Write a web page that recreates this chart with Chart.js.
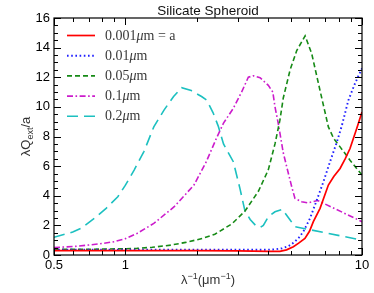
<!DOCTYPE html>
<html><head><meta charset="utf-8">
<script src="https://cdn.jsdelivr.net/npm/chart.js@4/dist/chart.umd.min.js"></script>
<style>html,body{margin:0;padding:0;background:#fff}#wrap{width:374px;height:293px;position:relative}</style>
</head><body><div id="wrap"><canvas id="c" width="374" height="293"></canvas></div>
<script>
const chartTitle = "Silicate Spheroid";
const seriesLabels = ["0.001μm = a", "0.01μm", "0.05μm", "0.1μm", "0.2μm"];

const x001 = [0.5, 0.7, 1, 1.5, 2, 3, 4, 4.5, 4.8, 5.13, 5.4, 5.74, 6.0, 6.23, 6.65, 7.21, 7.6, 8.08, 8.5, 8.9, 9.5, 10];
const y001 = [0.3, 0.3, 0.3, 0.3, 0.3, 0.28, 0.25, 0.25, 0.35, 0.56, 0.8, 1.12, 1.6, 2.25, 3.15, 4.72, 5.3, 5.84, 6.5, 7.19, 8.54, 9.65];

const x01 = [0.5, 1, 2, 3, 4, 4.3, 4.6, 4.9, 5.13, 5.4, 5.65, 6.03, 6.44, 6.87, 7.33, 7.82, 8.21, 8.76, 9.35, 10];
const y01 = [0.36, 0.36, 0.35, 0.35, 0.36, 0.38, 0.45, 0.6, 0.82, 1.15, 1.57, 2.47, 3.7, 4.94, 6.3, 7.6, 8.7, 10.45, 11.6, 12.6];

const x05 = [0.5, 0.7, 0.81, 1.0, 1.12, 1.3, 1.56, 1.8, 2.0, 2.12, 2.39, 2.82, 3.2, 3.65, 4.02, 4.29, 4.5, 4.65, 4.97, 5.3, 5.75, 6.13, 6.65, 7.21, 7.6, 8.08, 8.9, 10];
const y05 = [0.38, 0.38, 0.4, 0.42, 0.45, 0.52, 0.67, 0.85, 1.02, 1.12, 1.4, 2.1, 2.95, 4.3, 5.75, 7.5, 9.1, 10.6, 12.5, 13.8, 14.8, 13.6, 11.1, 8.65, 7.85, 7.3, 6.4, 5.4];

const x1 = [0.5, 0.6, 0.7, 0.8, 0.9, 1.0, 1.12, 1.32, 1.61, 1.95, 2.2, 2.43, 2.6, 2.86, 3.1, 3.31, 3.47, 3.71, 4.02, 4.2, 4.29, 4.43, 4.65, 4.87, 5.05, 5.21, 5.56, 5.9, 6.5, 10];
const y1 = [0.5, 0.57, 0.67, 0.78, 0.9, 1.1, 1.45, 2.13, 3.26, 4.72, 6.3, 7.9, 8.9, 9.9, 11.0, 12.0, 12.1, 11.97, 11.45, 11.0, 10.0, 8.87, 6.9, 5.6, 4.6, 3.82, 3.6, 3.52, 3.68, 2.25];

const x2 = [0.5, 0.6, 0.65, 0.74, 0.83, 0.93, 1.0, 1.09, 1.2, 1.32, 1.46, 1.6, 1.73, 1.9, 2.1, 2.21, 2.35, 2.47, 2.6, 2.86, 3.05, 3.2, 3.37, 3.55, 3.71, 3.83, 4.02, 4.29, 4.61, 4.97, 5.21, 5.84, 10];
const y2 = [1.2, 1.55, 1.8, 2.47, 3.15, 3.93, 4.7, 5.73, 7.0, 8.65, 9.8, 10.7, 11.3, 11.1, 10.7, 10.45, 9.6, 8.7, 7.5, 6.3, 4.5, 3.0, 2.4, 2.0, 1.86, 2.0, 2.58, 2.92, 3.08, 2.36, 1.91, 1.75, 1.0];

const xTickValues = [0.5, 1, 10];
const xMinorTicks = [0.6, 0.7, 0.8, 0.9, 2, 3, 4, 5, 6, 7, 8, 9];
const yTickValues = [0, 2, 4, 6, 8, 10, 12, 14, 16];
const yMinorStep = 0.5;

const seriesX = [x001, x01, x05, x1, x2];
const seriesY = [y001, y01, y05, y1, y2];
const seriesColors = ["#ff0000", "#1f1fff", "#168a16", "#cc1ccc", "#1cc0c0"];
const seriesDash = [[], [1.6, 2.6], [5, 3], [6, 2.5, 1.6, 2.5], [11, 6]];
const seriesWidth = [1.7, 1.9, 1.6, 1.6, 1.6];

const datasets = seriesX.map((xs, k) => ({
  label: seriesLabels[k],
  data: xs.map((x, i) => ({x: x, y: seriesY[k][i]})),
  borderColor: seriesColors[k],
  backgroundColor: seriesColors[k],
  borderDash: seriesDash[k],
  borderWidth: seriesWidth[k],
  pointRadius: 0,
  tension: 0,
  fill: false
}));

const SANS = "'Liberation Sans', Arial, sans-serif";
const SERIF = "'Liberation Serif', 'Times New Roman', serif";

function drawRich(ctx, parts, x, y, align) {
  // parts: [{t, font, dy}]
  let total = 0;
  parts.forEach(p => { ctx.font = p.font; p.w = ctx.measureText(p.t).width; total += p.w; });
  let cx = align === 'center' ? x - total / 2 : x;
  parts.forEach(p => { ctx.font = p.font; ctx.fillText(p.t, cx, y + (p.dy || 0)); cx += p.w; });
}

const decor = {
  id: 'decor',
  afterDraw(chart) {
    const ctx = chart.ctx;
    const a = chart.chartArea;
    const xs = chart.scales.x, ys = chart.scales.y;
    ctx.save();
    ctx.strokeStyle = '#000';
    ctx.lineWidth = 1.2;
    ctx.setLineDash([]);
    ctx.strokeRect(a.left, a.top, a.right - a.left, a.bottom - a.top);
    ctx.lineWidth = 1;
    ctx.beginPath();
    // y ticks
    for (let v = ys.min; v <= ys.max + 1e-9; v += yMinorStep) {
      const py = Math.round(ys.getPixelForValue(v)) + 0.5;
      const major = yTickValues.includes(Math.round(v * 100) / 100);
      const L = major ? 7 : 4;
      ctx.moveTo(a.left, py); ctx.lineTo(a.left + L, py);
      ctx.moveTo(a.right, py); ctx.lineTo(a.right - L, py);
    }
    // x ticks
    const all = xTickValues.map(v => [v, 7]).concat(xMinorTicks.map(v => [v, 4]));
    all.forEach(([v, L]) => {
      const px = Math.round(xs.getPixelForValue(v)) + 0.5;
      ctx.moveTo(px, a.bottom); ctx.lineTo(px, a.bottom - L);
      ctx.moveTo(px, a.top); ctx.lineTo(px, a.top + L);
    });
    ctx.stroke();

    // legend
    const lx0 = a.left + 13, lx1 = a.left + 41, tx = a.left + 51;
    chart.data.datasets.forEach((ds, i) => {
      const ly = a.top + 17.5 + i * 20.2;
      ctx.strokeStyle = ds.borderColor;
      ctx.lineWidth = ds.borderWidth;
      ctx.setLineDash(ds.borderDash);
      ctx.beginPath(); ctx.moveTo(lx0, ly); ctx.lineTo(lx1, ly); ctx.stroke();
      ctx.setLineDash([]);
      ctx.fillStyle = '#3a3a3a';
      ctx.textBaseline = 'middle';
      ctx.textAlign = 'left';
      const lab = ds.label;
      const k = lab.indexOf('μ');
      drawRich(ctx, [
        {t: lab.slice(0, k), font: '14px ' + SERIF},
        {t: 'μ', font: 'italic 14px ' + SERIF},
        {t: lab.slice(k + 1), font: '14px ' + SERIF}
      ], tx, ly + 0.5, 'left');
    });

    // title
    ctx.fillStyle = '#111';
    ctx.textAlign = 'left';
    ctx.textBaseline = 'alphabetic';
    drawRich(ctx, [{t: chartTitle, font: '13.5px ' + SANS}], (a.left + a.right) / 2, 15, 'center');

    // x axis title
    ctx.fillStyle = '#333';
    drawRich(ctx, [
      {t: 'λ', font: '13px ' + SANS},
      {t: '−1', font: '9px ' + SANS, dy: -5},
      {t: '(μm', font: '13px ' + SANS},
      {t: '−1', font: '9px ' + SANS, dy: -5},
      {t: ')', font: '13px ' + SANS}
    ], (a.left + a.right) / 2, 284, 'center');

    // y axis title
    ctx.translate(29.5, (a.top + a.bottom) / 2);
    ctx.rotate(-Math.PI / 2);
    drawRich(ctx, [
      {t: 'λQ', font: '13px ' + SANS},
      {t: 'ext', font: '9px ' + SANS, dy: 3},
      {t: '/a', font: '13px ' + SANS}
    ], 0, 0, 'center');
    ctx.restore();
  }
};

new Chart(document.getElementById('c'), {
  type: 'line',
  data: {datasets: datasets},
  options: {
    responsive: false,
    animation: false,
    devicePixelRatio: 1,
    layout: {padding: {top: 18, right: 12, left: 0, bottom: 0}},
    plugins: {legend: {display: false}, title: {display: false}, tooltip: {enabled: false}},
    scales: {
      x: {
        type: 'logarithmic', min: 0.5, max: 10,
        afterBuildTicks: s => { s.ticks = xTickValues.map(v => ({value: v})); },
        afterFit: s => { s.height = 38; },
        grid: {display: false, drawTicks: false},
        border: {display: false},
        ticks: {autoSkip: false, maxRotation: 0, padding: 3, color: '#000',
          font: {family: SANS, size: 13}, callback: v => String(v)}
      },
      y: {
        type: 'linear', min: 0, max: 16,
        afterBuildTicks: s => { s.ticks = yTickValues.map(v => ({value: v})); },
        afterFit: s => { s.width = 54; },
        grid: {display: false, drawTicks: false},
        border: {display: false},
        ticks: {padding: 4, color: '#000', font: {family: SANS, size: 13}, callback: v => String(v)}
      }
    }
  },
  plugins: [decor]
});
</script></body></html>
